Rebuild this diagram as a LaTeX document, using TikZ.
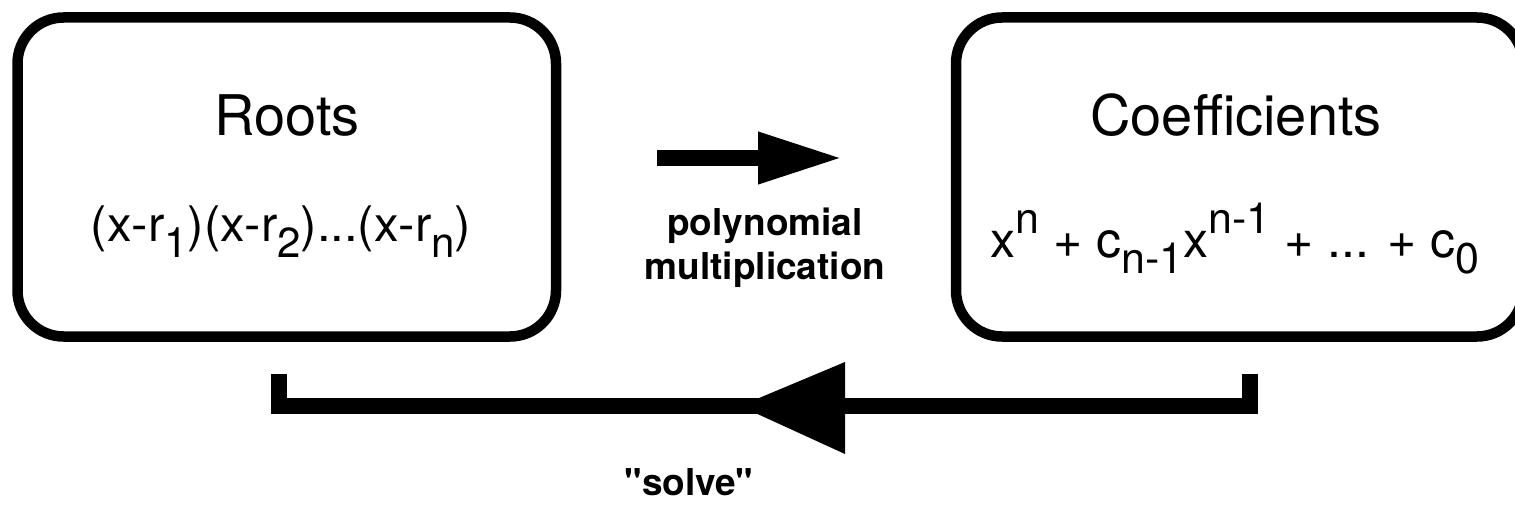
\documentclass[tikz,border=0pt]{standalone}
\usepackage{fontspec}
\setmainfont{TeX Gyre Heros}[Ligatures=TeXOff]
\usetikzlibrary{arrows.meta}
\newcommand{\lowsubL}[1]{\raisebox{-16pt}{\fontsize{42}{42}\selectfont #1}}
\newcommand{\lowsubR}[1]{\raisebox{-17pt}{\fontsize{43}{43}\selectfont #1}}
\newcommand{\highsupR}[1]{\raisebox{24pt}{\fontsize{43}{43}\selectfont #1}}
\begin{document}
\begin{tikzpicture}[x=1pt,y=-1pt,
  box/.style={draw, line width=10.5pt, rounded corners=46pt, inner sep=0pt, outer sep=0pt},
  title/.style={font=\fontsize{56}{56}\selectfont, anchor=base, inner sep=0pt},
  formulaL/.style={font=\fontsize{49}{49}\selectfont, anchor=base, inner sep=0pt},
  formulaR/.style={font=\fontsize{50}{50}\selectfont, anchor=base, inner sep=0pt},
  lbl/.style={font=\fontsize{37}{37}\selectfont\bfseries, anchor=base, inner sep=0pt},
  sollbl/.style={font=\fontsize{37}{37}\selectfont\bfseries, anchor=base, inner sep=0pt},
  heavy/.style={line width=16pt}]
\useasboundingbox (0,0) rectangle (1515,505);
\node[box, minimum width=538.5pt, minimum height=319pt] (roots) at (286.75,177) {};
\node[box, minimum width=567pt, minimum height=319pt] (coeffs) at (1239.5,177) {};
\node[title] (rootsT) at (287,136) {Roots};
\node[formulaL] (rootsF) at (281,241) {(x-r\lowsubL{1})(x-r\lowsubL{2})...(x-r\lowsubL{n})};
\node[title] (coeffT) at (1236,136) {Coefficients};
\node[formulaR] (coeffF) at (1235,257) {x\highsupR{n} + c\lowsubR{n-1}x\highsupR{n-1} + ... + c\lowsubR{0}};
% top arrow
\coordinate (pa) at (657,158);
\coordinate (pb) at (843,158);
\draw[heavy, -{Triangle[length=85pt,width=48pt]}] (pa) -- (pb);
\node[lbl] (poly1) at (765,236) {polynomial};
\node[lbl] (poly2) at (765,279) {multiplication};
% bottom bracket
\coordinate (lt) at (278.5,374);
\coordinate (lb) at (278.5,406);
\coordinate (rt) at (1249.5,374);
\coordinate (rb) at (1249.5,406);
\draw[heavy, line join=miter] (rt) -- (rb) -- (lb) -- (lt);
\coordinate (stip) at (740,406);
\fill (stip) -- ++(105,-44) -- ++(0,92) -- cycle;
\node[sollbl] (solve) at (689,495) {"solve"};
\end{tikzpicture}
\end{document}
